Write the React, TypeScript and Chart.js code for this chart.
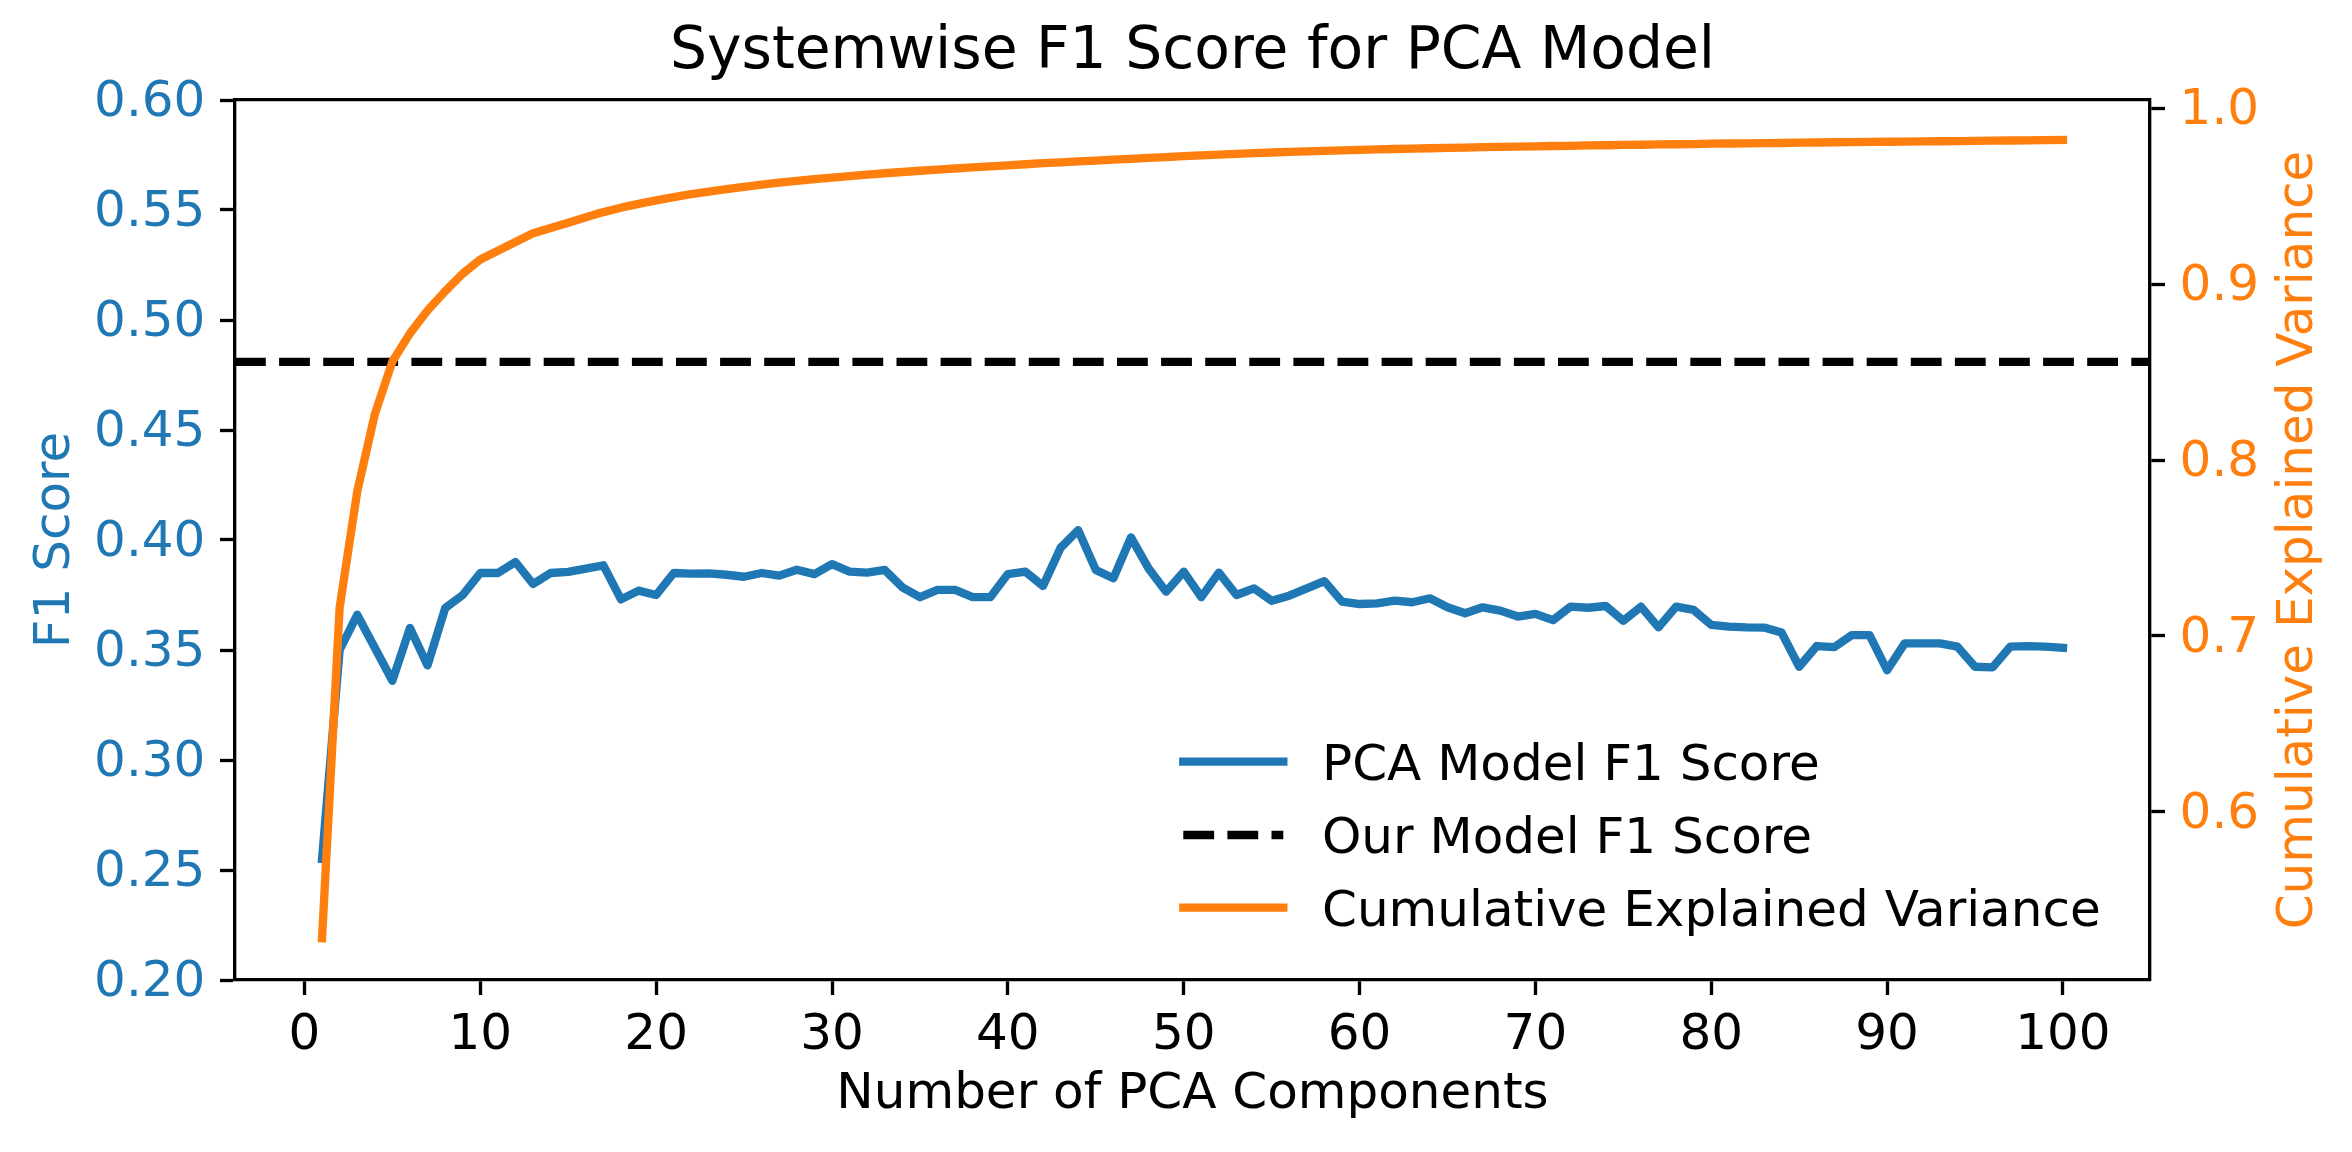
import React, { useEffect, useRef } from "react";
import { Chart, registerables } from "chart.js";

Chart.register(...registerables);

// ---------------- data ----------------
const components = [
  1, 2, 3, 4, 5, 6, 7, 8, 9, 10,
  11, 12, 13, 14, 15, 16, 17, 18, 19, 20,
  21, 22, 23, 24, 25, 26, 27, 28, 29, 30,
  31, 32, 33, 34, 35, 36, 37, 38, 39, 40,
  41, 42, 43, 44, 45, 46, 47, 48, 49, 50,
  51, 52, 53, 54, 55, 56, 57, 58, 59, 60,
  61, 62, 63, 64, 65, 66, 67, 68, 69, 70,
  71, 72, 73, 74, 75, 76, 77, 78, 79, 80,
  81, 82, 83, 84, 85, 86, 87, 88, 89, 90,
  91, 92, 93, 94, 95, 96, 97, 98, 99, 100,
];

const pcaF1 = [
  0.255, 0.350, 0.366, 0.351, 0.336, 0.360, 0.343, 0.369, 0.375, 0.385,
  0.385, 0.390, 0.380, 0.385, 0.3855, 0.387, 0.3885, 0.373, 0.377, 0.375,
  0.385, 0.3847, 0.3848, 0.3842, 0.3833, 0.385, 0.3838, 0.3865, 0.3845, 0.389,
  0.3856, 0.3852, 0.3864, 0.3785, 0.374, 0.3773, 0.3773, 0.374, 0.374, 0.3845,
  0.3856, 0.3791, 0.3965, 0.4045, 0.3864, 0.3826, 0.4012, 0.3871, 0.3765, 0.3856,
  0.374, 0.3852, 0.375, 0.378, 0.3724, 0.3747, 0.378, 0.3813, 0.372, 0.3709,
  0.3712, 0.3724, 0.3717, 0.3735, 0.3694, 0.3667, 0.3694, 0.3679, 0.3652, 0.3664,
  0.3636, 0.3697, 0.3692, 0.370, 0.3633, 0.3697, 0.3603, 0.3697, 0.3682, 0.3614,
  0.3606, 0.3603, 0.3602, 0.3579, 0.3424, 0.3518, 0.3513, 0.3568, 0.3568, 0.3408,
  0.353, 0.353, 0.353, 0.3515, 0.3424, 0.3421, 0.3515, 0.3518, 0.3515, 0.351,
];

const cumVariance = [
  0.528, 0.716, 0.782, 0.826, 0.856, 0.872, 0.885, 0.896, 0.906, 0.914,
  0.919, 0.924, 0.929, 0.932, 0.935, 0.938, 0.941, 0.9435, 0.9457, 0.9477,
  0.9495, 0.9512, 0.9527, 0.9541, 0.9554, 0.9566, 0.9577, 0.9587, 0.9597, 0.9606,
  0.9615, 0.9623, 0.9631, 0.9638, 0.9645, 0.9652, 0.9658, 0.9664, 0.967, 0.9676,
  0.9682, 0.9688, 0.9693, 0.9698, 0.9703, 0.9708, 0.9713, 0.9718, 0.9723, 0.9728,
  0.9733, 0.9737, 0.9741, 0.9745, 0.9749, 0.9752, 0.9755, 0.9758, 0.9761, 0.9764,
  0.9767, 0.9769, 0.9771, 0.9773, 0.9775, 0.9777, 0.9779, 0.9781, 0.9782, 0.9784,
  0.9786, 0.9787, 0.9789, 0.979, 0.9792, 0.9793, 0.9795, 0.9796, 0.9797, 0.9799,
  0.980, 0.9801, 0.9802, 0.9803, 0.9805, 0.9806, 0.9807, 0.9808, 0.9809, 0.981,
  0.9811, 0.9812, 0.9813, 0.9814, 0.9815, 0.9816, 0.9817, 0.9818, 0.9819, 0.982,
];

const ourModelF1 = 0.481;

const xTicks = [0, 10, 20, 30, 40, 50, 60, 70, 80, 90, 100];
const leftTicks = [0.2, 0.25, 0.3, 0.35, 0.4, 0.45, 0.5, 0.55, 0.6];
const rightTicks = [0.6, 0.7, 0.8, 0.9, 1.0];

const X_MIN = -3.95;
const X_MAX = 104.95;
const L_MIN = 0.2;
const L_MAX = 0.6;
const R_MIN = 0.50425;
const R_MAX = 1.00475;

const seriesNames = ["PCA Model F1 Score", "Our Model F1 Score", "Cumulative Explained Variance"];
const titleText = "Systemwise F1 Score for PCA Model";
const xLabel = "Number of PCA Components";
const yLeftLabel = "F1 Score";
const yRightLabel = "Cumulative Explained Variance";

// ---------------- style ----------------
const BLUE = "#1f77b4";
const ORANGE = "#ff7f0e";
const FAMILY = '"DejaVu Sans", sans-serif';
const LW = 8.33;
const SPINE = 3.33;
const FS = 50;

const customText = {
  id: "customText",
  afterDraw(chart: any) {
    const { ctx, chartArea } = chart;
    const cy = (chartArea.top + chartArea.bottom) / 2;
    ctx.save();
    ctx.font = `${FS}px ${FAMILY}`;
    ctx.textAlign = "center";
    ctx.textBaseline = "alphabetic";

    // left y label
    ctx.save();
    ctx.fillStyle = BLUE;
    ctx.translate(chartArea.left - 166, cy);
    ctx.rotate(-Math.PI / 2);
    ctx.fillText(yLeftLabel, 0, 0);
    ctx.restore();

    // right y label
    ctx.save();
    ctx.fillStyle = ORANGE;
    ctx.translate(chartArea.right + 161.7, cy);
    ctx.rotate(-Math.PI / 2);
    ctx.fillText(yRightLabel, 0, 0);
    ctx.restore();

    // legend
    const x1 = chartArea.right - 966.7;
    const x2 = chartArea.right - 866.7;
    const tx = chartArea.right - 828;
    const rows = [chartArea.bottom - 218.3, chartArea.bottom - 145, chartArea.bottom - 72.3];
    const colors = [BLUE, "#000000", ORANGE];
    rows.forEach((ry, i) => {
      ctx.save();
      ctx.strokeStyle = colors[i];
      ctx.lineWidth = LW;
      if (i === 1) {
        ctx.setLineDash([30.8, 13.3]);
        ctx.lineCap = "butt";
      } else {
        ctx.lineCap = "square";
      }
      ctx.beginPath();
      ctx.moveTo(x1, ry);
      ctx.lineTo(x2, ry);
      ctx.stroke();
      ctx.restore();
      ctx.fillStyle = "#000000";
      ctx.textAlign = "left";
      ctx.fillText(seriesNames[i], tx, ry + 18.2);
    });
    ctx.restore();
  },
};

const tickFont = { family: FAMILY, size: FS };

export default function App() {
  const ref = useRef<HTMLCanvasElement | null>(null);

  useEffect(() => {
    if (!ref.current) return;
    const chart = new Chart(ref.current, {
      type: "line",
      data: {
        datasets: [
          {
            label: seriesNames[0],
            data: components.map((c, i) => ({ x: c, y: pcaF1[i] })),
            borderColor: BLUE,
            backgroundColor: BLUE,
            borderWidth: LW,
            pointRadius: 0,
            tension: 0,
            fill: false,
            borderCapStyle: "square",
            borderJoinStyle: "round",
            xAxisID: "x",
            yAxisID: "y",
            order: 2,
          },
          {
            label: seriesNames[1],
            data: [
              { x: X_MIN, y: ourModelF1 },
              { x: X_MAX, y: ourModelF1 },
            ],
            borderColor: "#000000",
            backgroundColor: "#000000",
            borderWidth: LW,
            borderDash: [30.8, 13.3],
            pointRadius: 0,
            tension: 0,
            fill: false,
            xAxisID: "x",
            yAxisID: "y",
            order: 1,
          },
          {
            label: seriesNames[2],
            data: components.map((c, i) => ({ x: c, y: cumVariance[i] })),
            borderColor: ORANGE,
            backgroundColor: ORANGE,
            borderWidth: LW,
            pointRadius: 0,
            tension: 0,
            fill: false,
            borderCapStyle: "square",
            borderJoinStyle: "round",
            xAxisID: "x",
            yAxisID: "y1",
            order: 0,
          },
        ],
      } as any,
      options: {
        responsive: false,
        animation: false,
        devicePixelRatio: 1,
        layout: { padding: { left: 33, top: 0, right: 0, bottom: 0 } },
        plugins: {
          legend: { display: false },
          tooltip: { enabled: false },
          title: {
            display: true,
            text: titleText,
            color: "#000000",
            font: { family: FAMILY, size: 58.3, weight: "normal", lineHeight: 1 } as any,
            padding: { top: 24, bottom: 0 },
          },
        },
        scales: {
          x: {
            type: "linear",
            position: "bottom",
            min: X_MIN,
            max: X_MAX,
            afterBuildTicks: (s: any) => {
              s.ticks = xTicks.map((v) => ({ value: v }));
            },
            afterFit: (s: any) => {
              s.height = 172;
            },
            ticks: {
              color: "#000000",
              font: tickFont,
              padding: 11,
              autoSkip: false,
              maxRotation: 0,
              minRotation: 0,
              callback: (v: any) => String(v),
            },
            grid: {
              drawOnChartArea: false,
              drawTicks: true,
              tickLength: 15,
              tickWidth: SPINE,
              tickColor: "#000000",
            },
            border: { display: true, color: "#000000", width: SPINE },
            title: {
              display: true,
              text: xLabel,
              color: "#000000",
              font: { family: FAMILY, size: FS, lineHeight: 1 },
              padding: { top: 0, bottom: 32 },
            },
          },
          x2: {
            type: "linear",
            position: "top",
            min: X_MIN,
            max: X_MAX,
            afterFit: (s: any) => {
              s.height = 17.7;
            },
            ticks: { display: false },
            grid: { display: false, drawTicks: false, drawOnChartArea: false },
            border: { display: true, color: "#000000", width: SPINE },
          },
          y: {
            type: "linear",
            position: "left",
            min: L_MIN,
            max: L_MAX,
            afterBuildTicks: (s: any) => {
              s.ticks = leftTicks.map((v) => ({ value: v }));
            },
            afterFit: (s: any) => {
              s.width = 202;
            },
            ticks: {
              color: BLUE,
              font: tickFont,
              padding: 14.6,
              labelOffset: 3,
              callback: (v: any) => Number(v).toFixed(2),
            },
            grid: {
              drawOnChartArea: false,
              drawTicks: true,
              tickLength: 15,
              tickWidth: SPINE,
              tickColor: "#000000",
            },
            border: { display: true, color: "#000000", width: SPINE },
          },
          y1: {
            type: "linear",
            position: "right",
            min: R_MIN,
            max: R_MAX,
            afterBuildTicks: (s: any) => {
              s.ticks = rightTicks.map((v) => ({ value: v }));
            },
            afterFit: (s: any) => {
              s.width = 202;
            },
            ticks: {
              color: ORANGE,
              font: tickFont,
              padding: 14.6,
              labelOffset: 3,
              callback: (v: any) => Number(v).toFixed(1),
            },
            grid: {
              drawOnChartArea: false,
              drawTicks: true,
              tickLength: 15,
              tickWidth: SPINE,
              tickColor: "#000000",
            },
            border: { display: true, color: "#000000", width: SPINE },
          },
        },
      } as any,
      plugins: [customText],
    });
    return () => chart.destroy();
  }, []);

  return (
    <div style={{ position: "absolute", left: 0, top: 0, width: 2352, height: 1152, background: "#ffffff" }}>
      <canvas ref={ref} width={2352} height={1152} style={{ display: "block", width: 2352, height: 1152 }} />
    </div>
  );
}
